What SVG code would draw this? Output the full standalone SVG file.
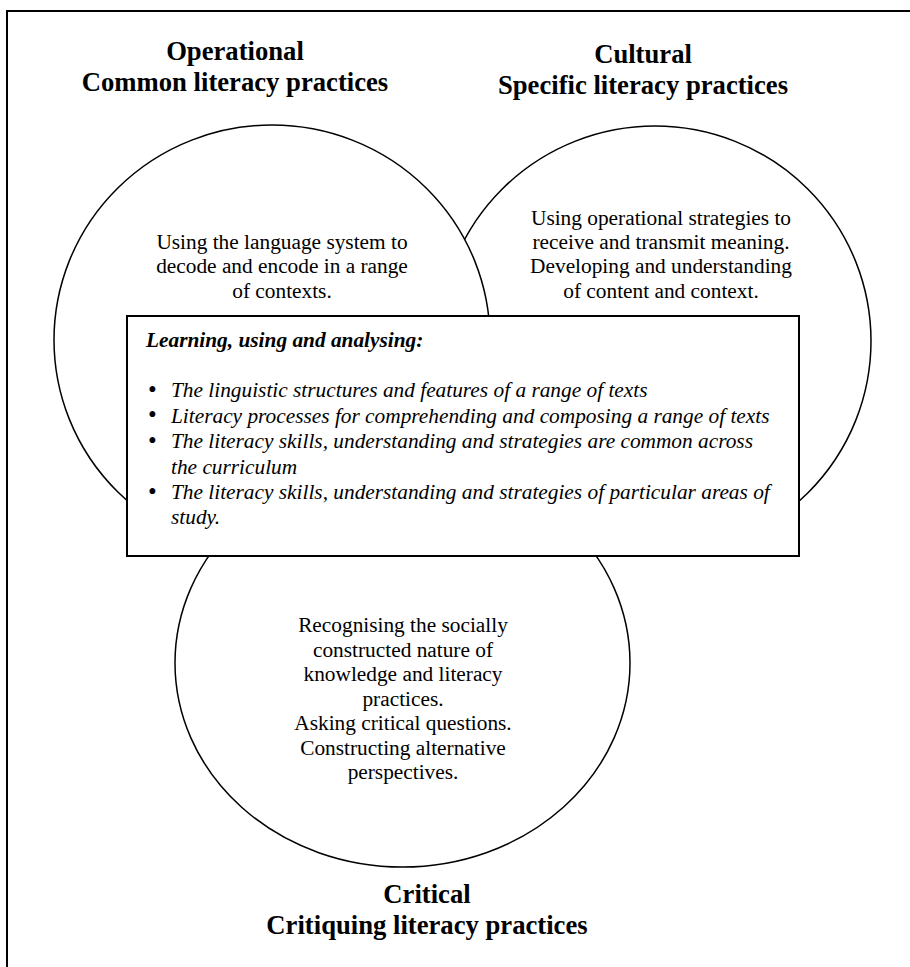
<svg xmlns="http://www.w3.org/2000/svg" width="910" height="967" viewBox="0 0 910 967">
  <style>
    .frame { fill: none; stroke: #000; stroke-width: 2; }
    .ring { fill: #fff; stroke: #000; stroke-width: 1.5; }
    .panel { fill: #fff; stroke: #000; stroke-width: 2; }
    text { font-family: "Liberation Serif", "Times New Roman", serif; fill: #000; }
    .title { font-size: 26.67px; font-weight: bold; text-anchor: middle; }
    .body { font-size: 21.33px; text-anchor: middle; }
    .lead { font-size: 21.33px; font-weight: bold; font-style: italic; }
    .item { font-size: 21.33px; font-style: italic; }
    .dot { font-size: 25px; }
  </style>

  <!-- page frame: top and left rules -->
  <path class="frame" d="M7,967 V11 H910"/>

  <!-- Cultural set (drawn first so the Operational set overlaps it) -->
  <g id="cultural">
    <ellipse class="ring" cx="655" cy="341" rx="216" ry="215"/>
    <text class="title" x="643" y="63">Cultural</text>
    <text class="title" x="643" y="94">Specific literacy practices</text>
    <text class="body" x="661" y="224.5">Using operational strategies to</text>
    <text class="body" x="661" y="249">receive and transmit meaning.</text>
    <text class="body" x="661" y="273">Developing and understanding</text>
    <text class="body" x="661" y="297.5">of content and context.</text>
  </g>

  <!-- Operational set -->
  <g id="operational">
    <ellipse class="ring" cx="272" cy="340" rx="218" ry="215"/>
    <text class="title" x="235" y="60">Operational</text>
    <text class="title" x="235" y="91">Common literacy practices</text>
    <text class="body" x="282" y="248.5">Using the language system to</text>
    <text class="body" x="282" y="273">decode and encode in a range</text>
    <text class="body" x="282" y="297.5">of contexts.</text>
  </g>

  <!-- Critical set -->
  <g id="critical">
    <ellipse class="ring" cx="402.5" cy="663" rx="227.5" ry="204"/>
    <text class="body" x="403" y="632">Recognising the socially</text>
    <text class="body" x="403" y="656.5">constructed nature of</text>
    <text class="body" x="403" y="681">knowledge and literacy</text>
    <text class="body" x="403" y="705.5">practices.</text>
    <text class="body" x="403" y="730">Asking critical questions.</text>
    <text class="body" x="403" y="754.5">Constructing alternative</text>
    <text class="body" x="403" y="779">perspectives.</text>
    <text class="title" x="427" y="903">Critical</text>
    <text class="title" x="427" y="934">Critiquing literacy practices</text>
  </g>

  <!-- shared centre panel -->
  <g id="centre">
    <rect class="panel" x="127" y="316" width="672" height="240"/>
    <text class="lead" x="146" y="347">Learning, using and analysing:</text>
    <text class="dot" x="148" y="397.5">•</text>
    <text class="item" x="171" y="397">The linguistic structures and features of a range of texts</text>
    <text class="dot" x="148" y="423">•</text>
    <text class="item" x="171" y="422.5">Literacy processes for comprehending and composing a range of texts</text>
    <text class="dot" x="148" y="448.5">•</text>
    <text class="item" x="171" y="448">The literacy skills, understanding and strategies are common across</text>
    <text class="item" x="171" y="473.5">the curriculum</text>
    <text class="dot" x="148" y="499.5">•</text>
    <text class="item" x="171" y="499">The literacy skills, understanding and strategies of particular areas of</text>
    <text class="item" x="171" y="524">study.</text>
  </g>

  <g id="connectors"/>
</svg>
